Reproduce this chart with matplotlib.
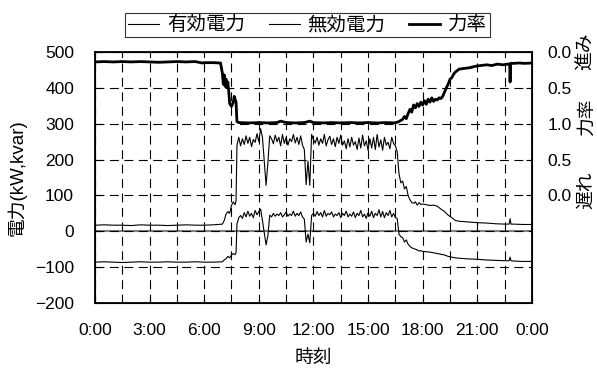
import matplotlib
matplotlib.use("Agg")
import matplotlib.pyplot as plt
from matplotlib.ticker import MultipleLocator, FixedLocator

plt.rcParams['font.family'] = ['Liberation Sans', 'Noto Sans CJK JP']

# time of day [h] for active / reactive power
t_pq = [0, 0.5, 1, 1.5, 2, 2.5, 3, 3.5, 4, 4.5, 5, 5.5, 6, 6.5, 7.0,
        7.1, 7.2, 7.3, 7.4, 7.5, 7.6, 7.7, 7.75, 7.8,
        7.9,
        8.0, 8.1, 8.2, 8.3, 8.4, 8.5, 8.6, 8.7, 8.8, 8.9,
        9.0, 9.1, 9.2, 9.3, 9.4, 9.5, 9.6, 9.7, 9.8, 9.9,
        10.0, 10.1, 10.2, 10.3, 10.4, 10.5, 10.6, 10.7, 10.8, 10.9,
        11.0, 11.1, 11.2, 11.3, 11.4, 11.5, 11.6, 11.7, 11.8, 11.9,
        12.0, 12.1, 12.2, 12.3, 12.4, 12.5, 12.6, 12.7, 12.8, 12.9,
        13.0, 13.1, 13.2, 13.3, 13.4, 13.5, 13.6, 13.7, 13.8, 13.9,
        14.0, 14.1, 14.2, 14.3, 14.4, 14.5, 14.6, 14.7, 14.8, 14.9,
        15.0, 15.1, 15.2, 15.3, 15.4, 15.5, 15.6, 15.7, 15.8, 15.9,
        16.0, 16.1, 16.2, 16.3, 16.4, 16.5,
        16.6, 16.7, 16.8, 16.9, 17.0, 17.1, 17.2, 17.3, 17.4, 17.5, 17.6, 17.7,
        17.8, 17.9, 18.0, 18.2, 18.4, 18.6, 18.8, 19.0, 19.2, 19.4, 19.6, 19.8,
        20.0, 20.5, 21.0, 21.5, 22.0, 22.5, 22.75, 22.8, 22.85, 23.0, 23.5, 24.0]

# 有効電力 [kW]
p_kw = [17, 18, 17, 17, 16, 18, 17, 17, 16, 17, 18, 17, 17, 18, 20,
        30, 48, 55, 50, 72, 82, 74, 85, 240,
        262,
        238, 258, 242, 266, 245, 262, 236, 256, 248, 272,
        250, 286, 262, 195, 128, 192, 266, 258, 244, 268,
        250, 262, 238, 270, 245, 262, 240, 258, 250, 270,
        246, 262, 242, 266, 240, 228, 130, 196, 128, 270,
        255, 246, 262, 240, 258, 245, 270, 238, 255, 265,
        242, 258, 236, 262, 245, 268, 240, 252, 230, 258,
        235, 262, 240, 250, 228, 260, 232, 268, 238, 252,
        226, 258, 232, 262, 228, 270, 235, 255, 226, 262,
        240, 248, 230, 262, 245, 238,
        222, 160, 135, 140, 118, 125, 100, 88, 80, 78, 82, 73,
        80, 75, 76, 74, 72, 73, 70, 62, 55, 45, 38, 30,
        28, 26, 24, 23, 21, 20, 20, 35, 20, 20, 19, 19]

# 無効電力 [kvar]
q_kvar = [-86, -85, -86, -87, -86, -85, -86, -86, -85, -86, -86, -85, -86, -86, -85,
          -80, -76, -70, -74, -66, -62, -65, -60, 20,
          38,
          44, 36, 52, 40, 56, 42, 50, 38, 58, 46,
          55, 62, 30, -5, -38, -12, 45, 40, 50, 42,
          48, 44, 52, 40, 46, 54, 42, 48, 44, 56,
          42, 50, 44, 54, 40, 34, -30, -8, -32, 44,
          50, 42, 55, 44, 52, 40, 58, 42, 50, 46,
          54, 40, 48, 44, 52, 38, 50, 44, 56, 40,
          48, 42, 54, 38, 50, 44, 58, 40, 48, 36,
          52, 42, 56, 38, 50, 44, 60, 40, 55, 38,
          52, 44, 58, 40, 50, 38,
          36, -8, -15, -18, -30, -24, -36, -42, -46, -48, -50, -52,
          -55, -54, -56, -57, -58, -60, -62, -64, -66, -70, -72, -74,
          -75, -77, -78, -80, -81, -82, -82, -72, -82, -83, -84, -84]

# 力率 (進み)
t_pf = [0, 0.5, 1.0, 1.5, 2.0, 2.5, 3.0, 3.5, 4.0, 4.5, 5.0, 5.5, 5.9, 6.0, 6.5, 6.9,
        7.0, 7.05, 7.1, 7.15, 7.2, 7.25, 7.3, 7.35, 7.4, 7.5, 7.6, 7.65, 7.7, 7.75, 7.8, 7.9,
        8.5, 9.0, 9.5, 10.0, 10.2, 10.5, 11.0, 11.5, 11.8, 12.0, 12.5, 13.0, 13.5, 14.0, 14.5, 15.0, 15.5, 16.0, 16.5,
        16.7, 16.9, 17.0, 17.1, 17.2, 17.3, 17.4, 17.5, 17.6, 17.7, 17.8, 17.9, 18.0, 18.1, 18.2, 18.3, 18.4, 18.5, 18.6, 18.7,
        18.8, 18.9, 19.0, 19.1, 19.2, 19.3, 19.4, 19.5, 19.6, 19.7, 19.8, 19.9, 20.0,
        20.3, 20.6, 20.9, 21.2, 21.5, 21.8, 22.1, 22.4, 22.7, 22.78, 22.8, 22.83, 23.0, 23.3, 23.6, 24.0]
pf_lead = [0.14, 0.135, 0.14, 0.135, 0.14, 0.135, 0.14, 0.145, 0.14, 0.135, 0.14, 0.135, 0.155, 0.15, 0.15, 0.155,
           0.30, 0.45, 0.32, 0.48, 0.38, 0.50, 0.42, 0.55, 0.72, 0.76, 0.70, 0.62, 0.66, 0.70, 0.97, 0.985,
           0.99, 0.985, 0.99, 0.985, 0.965, 0.985, 0.99, 0.985, 0.965, 0.985, 0.99, 0.985, 0.99, 0.985, 0.99, 0.985, 0.99, 0.985, 0.99,
           0.97, 0.94, 0.90, 0.93, 0.86, 0.80, 0.84, 0.74, 0.78, 0.72, 0.76, 0.70, 0.74, 0.68, 0.73, 0.66, 0.70, 0.64, 0.69, 0.66,
           0.67, 0.64, 0.65, 0.62, 0.56, 0.50, 0.45, 0.38, 0.36, 0.31, 0.28, 0.26, 0.24,
           0.23, 0.22, 0.20, 0.19, 0.18, 0.19, 0.17, 0.18, 0.17, 0.17, 0.42, 0.16, 0.16, 0.155, 0.16, 0.155]

x_ticks = [0, 3, 6, 9, 12, 15, 18, 21, 24]
x_labels = ['0:00', '3:00', '6:00', '9:00', '12:00', '15:00', '18:00', '21:00', '0:00']
pf_ticks = [1.0, 0.5, 0.0, -0.5, -1.0]
pf_labels = ['0.0', '0.5', '1.0', '0.5', '0.0']

fig = plt.figure(figsize=(5.97, 3.76), dpi=100)
ax = fig.add_axes([0.159, 0.194, 0.732, 0.668])

grid_ls = (0, (8, 5))
ax.axhline(0, color='#808080', lw=1.5, zorder=1)
l1, = ax.plot(t_pq, p_kw, color='black', lw=0.8, label='有効電力', zorder=3)
l2, = ax.plot(t_pq, q_kvar, color='black', lw=0.8, label='無効電力', zorder=3)

ax.set_xlim(0, 24)
ax.set_ylim(-200, 500)
ax.set_xticks(x_ticks)
ax.set_xticklabels(x_labels)
ax.xaxis.set_minor_locator(MultipleLocator(1.5))
ax.yaxis.set_major_locator(MultipleLocator(100))
ax.grid(True, which='both', axis='x', color='black', lw=0.8, ls=grid_ls)
ax.grid(True, which='major', axis='y', color='black', lw=0.8, ls=grid_ls)
ax.tick_params(axis='x', which='major', direction='in', length=4, labelsize=12.5, pad=14)
ax.tick_params(axis='x', which='minor', length=0)
ax.tick_params(axis='y', direction='in', length=4, labelsize=12.5, pad=15)
for s in ax.spines.values():
    s.set_linewidth(1.3)
ax.set_xlabel('時刻', fontsize=13.5, labelpad=9)
ax.set_ylabel('電力(kW,kvar)', fontsize=13.5, labelpad=6)

ax2 = ax.twinx()
ax2.set_ylim(-2.5, 1.0)
pf_pos = [1 - v for v in pf_lead]
l3, = ax2.plot(t_pf, pf_pos, color='black', lw=2.0, label='力率')
ax2.yaxis.set_major_locator(FixedLocator(pf_ticks))
ax2.set_yticklabels(pf_labels)
ax2.tick_params(axis='y', direction='in', length=4, labelsize=12.5, pad=11)

fig.text(0.983, 0.865, '進み', rotation=90, ha='center', va='center', fontsize=13.5)
fig.text(0.983, 0.689, '力率', rotation=90, ha='center', va='center', fontsize=13.5)
fig.text(0.983, 0.495, '遅れ', rotation=90, ha='center', va='center', fontsize=13.5)

leg = fig.legend(handles=[l1, l2, l3], loc='center', bbox_to_anchor=(0.515, 0.933),
                 ncol=3, frameon=True, fancybox=False, fontsize=14,
                 handlelength=1.6, handletextpad=0.4, columnspacing=1.2,
                 borderpad=0.15)
leg.get_frame().set_edgecolor('black')
leg.get_frame().set_linewidth(0.8)

fig.savefig('out.png', dpi=100)
